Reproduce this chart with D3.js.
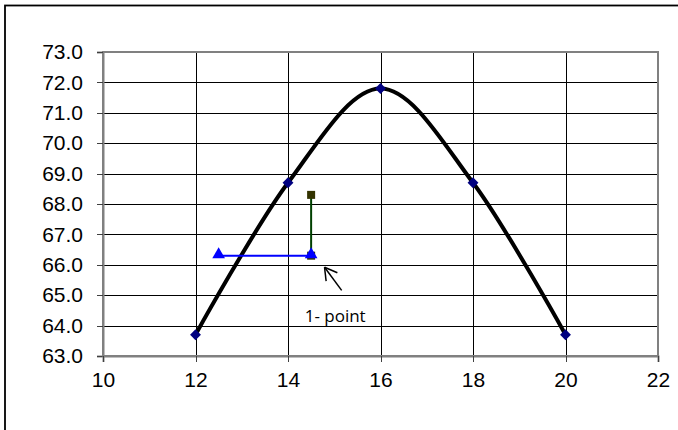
<!DOCTYPE html>
<html>
<head>
<meta charset="utf-8">
<script src="https://cdn.jsdelivr.net/npm/d3@7"></script>
<style>
  body { margin: 0; background: #fff; }
  svg { display: block; }
  .tick text { font-family: "Liberation Sans", Arial, sans-serif; font-size: 21px; fill: #000; }
</style>
</head>
<body>
<div id="chart"></div>
<script>
// curve points
const curveX = [12, 14, 16, 18, 20];
const curveY = [63.7, 68.7, 71.8, 68.7, 63.7];
// horizontal blue segment (triangles)
const blueX = [12.5, 14.5];
const blueY = [66.3, 66.3];
// vertical green segment (squares)
const greenX = [14.5, 14.5];
const greenY = [66.3, 68.3];
// annotation arrow, tip then tail
const arrowX = [14.79, 15.16];
const arrowY = [65.92, 65.16];
const noteLabel = '1- point';
const noteAt = [15.02, 64.12];

const xTicks = [10, 12, 14, 16, 18, 20, 22];
const yTicks = [63, 64, 65, 66, 67, 68, 69, 70, 71, 72, 73];

function drawChart() {
  const width = 678;
  const height = 430;
  const margin = { top: 52, right: 20, bottom: 74, left: 103 };

  const usableArea = {
    top: margin.top,
    right: width - margin.right,
    bottom: height - margin.bottom,
    left: margin.left,
    width: width - margin.left - margin.right,
    height: height - margin.top - margin.bottom,
  };

  const svg = d3.select('#chart')
    .append('svg')
    .attr('width', width)
    .attr('height', height);

  // outer chart border
  svg.append('rect')
    .attr('x', 5).attr('y', 5.5)
    .attr('width', 700).attr('height', 460)
    .attr('fill', '#fff')
    .attr('stroke', '#000')
    .attr('stroke-width', 1.8);

  const xScale = d3.scaleLinear().domain([10, 22]).range([usableArea.left, usableArea.right]);
  const yScale = d3.scaleLinear().domain([63, 73]).range([usableArea.bottom, usableArea.top]);

  // gridlines
  svg.append('g')
    .attr('class', 'gridlines')
    .attr('transform', `translate(${usableArea.left}, 0)`)
    .call(d3.axisLeft(yScale).tickValues(yTicks).tickFormat('').tickSize(-usableArea.width))
    .call(g => g.select('.domain').remove())
    .call(g => g.selectAll('line').attr('stroke', '#000').attr('shape-rendering', 'crispEdges'));

  svg.append('g')
    .attr('class', 'gridlines')
    .attr('transform', `translate(0, ${usableArea.bottom})`)
    .call(d3.axisBottom(xScale).tickValues(xTicks.slice(1, -1)).tickFormat('').tickSize(-usableArea.height))
    .call(g => g.select('.domain').remove())
    .call(g => g.selectAll('line').attr('stroke', '#000').attr('shape-rendering', 'crispEdges'));

  // plot area border
  svg.append('rect')
    .attr('x', usableArea.left).attr('y', usableArea.top)
    .attr('width', usableArea.width).attr('height', usableArea.height)
    .attr('fill', 'none')
    .attr('stroke', '#808080')
    .attr('stroke-width', 2);

  // axes
  svg.append('g')
    .attr('transform', `translate(${usableArea.left}, 0)`)
    .call(d3.axisLeft(yScale).tickValues(yTicks).tickFormat(d3.format('.1f')).tickSize(6).tickPadding(14))
    .call(g => g.select('.domain').attr('stroke', '#808080').attr('stroke-width', 2))
    .call(g => g.selectAll('.tick line').attr('stroke', '#404040').attr('shape-rendering', 'crispEdges'));

  svg.append('g')
    .attr('transform', `translate(0, ${usableArea.bottom})`)
    .call(d3.axisBottom(xScale).tickValues(xTicks).tickSize(6).tickPadding(10))
    .call(g => g.select('.domain').attr('stroke', '#808080').attr('stroke-width', 2))
    .call(g => g.selectAll('.tick line').attr('stroke', '#404040').attr('shape-rendering', 'crispEdges'));

  // smooth curve
  const curvePts = curveX.map((x, i) => [x, curveY[i]]);
  const line = d3.line()
    .x(d => xScale(d[0]))
    .y(d => yScale(d[1]))
    .curve(d3.curveCardinal.tension(0));

  svg.append('path')
    .datum(curvePts)
    .attr('d', line)
    .attr('fill', 'none')
    .attr('stroke', '#000')
    .attr('stroke-width', 4);

  svg.append('g')
    .selectAll('path')
    .data(curvePts)
    .join('path')
    .attr('transform', d => `translate(${xScale(d[0])}, ${yScale(d[1])})`)
    .attr('d', d3.symbol(d3.symbolDiamond2, 75))
    .attr('fill', '#000080');

  // vertical green segment
  const greenPts = greenX.map((x, i) => [x, greenY[i]]);
  svg.append('path')
    .datum(greenPts)
    .attr('d', d3.line().x(d => xScale(d[0])).y(d => yScale(d[1])))
    .attr('fill', 'none')
    .attr('stroke', '#004000')
    .attr('stroke-width', 2);

  svg.append('g')
    .selectAll('rect')
    .data(greenPts)
    .join('rect')
    .attr('x', d => xScale(d[0]) - 4)
    .attr('y', d => yScale(d[1]) - 4)
    .attr('width', 8).attr('height', 8)
    .attr('fill', '#333300');

  // horizontal blue segment
  const bluePts = blueX.map((x, i) => [x, blueY[i]]);
  svg.append('path')
    .datum(bluePts)
    .attr('d', d3.line().x(d => xScale(d[0])).y(d => yScale(d[1])))
    .attr('fill', 'none')
    .attr('stroke', '#0000ff')
    .attr('stroke-width', 2);

  svg.append('g')
    .selectAll('path')
    .data(bluePts)
    .join('path')
    .attr('transform', d => `translate(${xScale(d[0])}, ${yScale(d[1]) - 1})`)
    .attr('d', d3.symbol(d3.symbolTriangle, 70))
    .attr('fill', '#0000ff');

  // annotation arrow
  const tip = [xScale(arrowX[0]), yScale(arrowY[0])];
  const tail = [xScale(arrowX[1]), yScale(arrowY[1])];
  const ang = Math.atan2(tail[1] - tip[1], tail[0] - tip[0]);
  const headLen = 14;
  const heads = [ang - Math.PI / 6, ang + Math.PI / 6].map(a => [tip[0] + headLen * Math.cos(a), tip[1] + headLen * Math.sin(a)]);
  const arrow = svg.append('g').attr('stroke', '#000').attr('stroke-width', 1.5).attr('fill', 'none');
  arrow.append('line').attr('x1', tip[0]).attr('y1', tip[1]).attr('x2', tail[0]).attr('y2', tail[1]);
  heads.forEach(h => {
    arrow.append('line').attr('x1', tip[0]).attr('y1', tip[1]).attr('x2', h[0]).attr('y2', h[1]);
  });

  svg.append('text')
    .attr('x', xScale(noteAt[0]))
    .attr('y', yScale(noteAt[1]))
    .attr('text-anchor', 'middle')
    .style('font-family', '"Open Sans", "Noto Sans", sans-serif')
    .style('font-size', '17px')
    .text(noteLabel);
}

drawChart();
</script>
</body>
</html>
